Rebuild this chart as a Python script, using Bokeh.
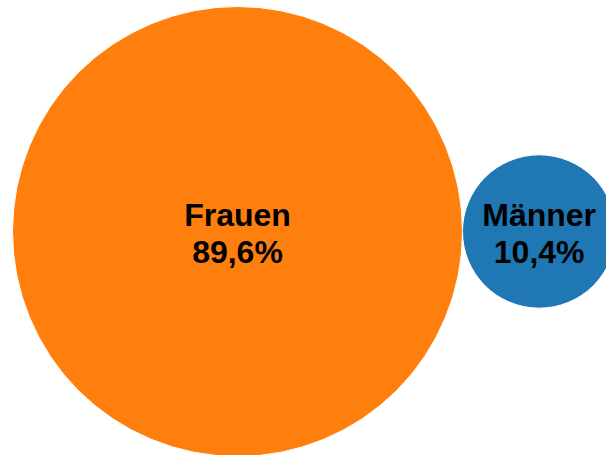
import math
from bokeh.plotting import figure
from bokeh.models import Range1d, ColumnDataSource
from bokeh.core.properties import value
from bokeh.embed import file_html
from bokeh.resources import INLINE

# Data
categories = ["Frauen", "Männer"]
shares = [89.6, 10.4]
share_labels = ["89,6%", "10,4%"]
colors = ["#ff7f0e", "#1f77b4"]

# Layout (pixel coordinates of the picture)
scale = 225 / math.sqrt(89.6)
left_edge = 12
center_y = 231

radii = [scale * math.sqrt(s) for s in shares]
xs = []
cursor = left_edge
for r in radii:
    xs.append(cursor + r)
    cursor += 2 * r
ys = [center_y] * len(shares)
labels = [f"{c}\n{l}" for c, l in zip(categories, share_labels)]

src = ColumnDataSource(dict(x=xs, y=ys, r=radii, color=colors, label=labels))

p = figure(width=606, height=455, output_backend="svg", toolbar_location=None,
           x_range=Range1d(0, 606), y_range=Range1d(455, 0),
           min_border=0, min_border_left=0, min_border_right=0,
           min_border_top=0, min_border_bottom=0)
p.axis.visible = False
p.grid.visible = False
p.outline_line_color = None
p.background_fill_color = "white"
p.border_fill_color = "white"

p.circle(x="x", y="y", radius="r", source=src, fill_color="color",
         line_color="white", line_width=1, radius_dimension="x")
p.text(x="x", y="y", text="label", source=src, text_align="center",
       text_baseline="middle", text_font=value("Liberation Sans"),
       text_font_style="bold", text_font_size="32px", text_color="black",
       text_line_height=1.05, y_offset=2)

open("out.html", "w").write(file_html(p, INLINE))
